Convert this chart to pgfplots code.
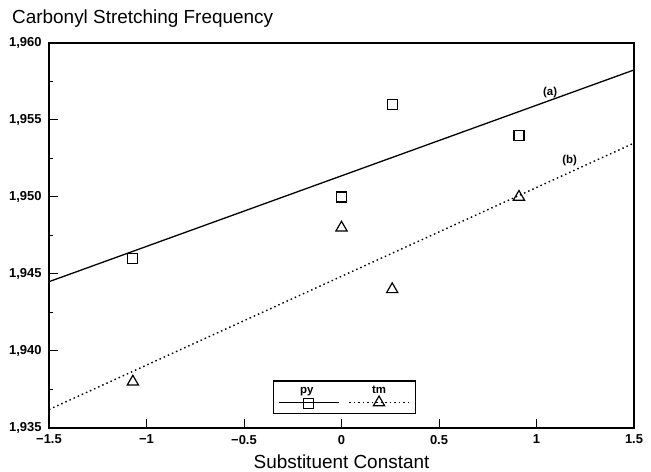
\documentclass[border=0pt]{standalone}
\usepackage{fontspec}
\setmainfont{Liberation Sans}
\usepackage{pgfplots}
\pgfplotsset{compat=1.18}

\begin{document}
\begin{tikzpicture}
\begin{axis}[
    scale only axis, width=585bp, height=385bp,
    xmin=-1.5, xmax=1.5, ymin=1935, ymax=1960,
    xtick={-1.5,-1,-0.5,0,0.5,1,1.5},
    xticklabels={−1.5,−1,−0.5,0,0.5,1,1.5},
    ytick={1935,1940,1945,1950,1955,1960},
    yticklabels={{1,935},{1,940},{1,945},{1,950},{1,955},{1,960}},
    minor ytick={1937.5,1942.5,1947.5,1952.5,1957.5},
    xtick pos=bottom, ytick pos=left,
    tick align=inside,
    major tick length=9bp, minor tick length=4.5bp,
    tick style={black, line width=1bp},
    axis line style={line width=1.2bp},
    tick label style={font=\bfseries\fontsize{13}{13}\selectfont},
    y tick label style={xshift=-4bp},
    x tick label style={yshift=-3.5bp},
    title={Carbonyl Stretching Frequency},
    title style={at={(0,1)}, anchor=base west, inner sep=0pt,
        xshift=-37bp, yshift=14bp, font=\fontsize{19}{19}\selectfont},
    xlabel={Substituent Constant},
    xlabel style={at={(0.5,0)}, anchor=base, inner sep=0pt,
        yshift=-40bp, font=\fontsize{19}{19}\selectfont},
    legend columns=2,
    legend style={at={(0.505,0.036)}, anchor=south, draw=black,
        line width=1.2bp, inner xsep=5bp, inner ysep=5bp,
        nodes={inner sep=0pt},
        /tikz/every even column/.append style={column sep=8bp}},
]
\addplot[only marks, mark=square, mark size=5bp, line width=1.2bp,
    legend image code/.code={
        \draw[line width=1.2bp] (0bp,0bp) -- (60bp,0bp);
        \draw[line width=1.2bp, mark=square, mark size=5bp]
            plot coordinates {(30bp,-1bp)};
        \node[font=\bfseries\fontsize{11.5}{11.5}\selectfont, inner sep=0pt,
            anchor=base] at (28bp,9bp) {py};
    }] coordinates {
    (-1.07,1946) (0,1950) (0.26,1956) (0.91,1954)};
\addlegendentry{}
\addplot[only marks, mark=triangle, mark size=6.5bp, line width=1.2bp,
    legend image code/.code={
        \draw[line width=1.2bp, dash pattern=on 1.5bp off 3bp]
            (0bp,0bp) -- (60bp,0bp);
        \draw[line width=1.2bp, mark=triangle, mark size=6.5bp]
            plot coordinates {(30bp,0bp)};
        \node[font=\bfseries\fontsize{11.5}{11.5}\selectfont, inner sep=0pt,
            anchor=base] at (30bp,9bp) {tm};
    }] coordinates {
    (-1.07,1938) (0,1948) (0.26,1944) (0.91,1950)};
\addlegendentry{}
% regression lines
\addplot[line width=1.3bp, forget plot] coordinates {(-1.5,1944.5) (1.5,1958.25)};
\addplot[line width=1.4bp, dash pattern=on 1.5bp off 3bp, forget plot]
    coordinates {(-1.5,1936.2) (1.5,1953.5)};
\node[font=\bfseries\fontsize{11.5}{11.5}\selectfont] at (axis cs:1.07,1956.8) {(a)};
\node[font=\bfseries\fontsize{11.5}{11.5}\selectfont] at (axis cs:1.17,1952.4) {(b)};
\coordinate (bl) at (rel axis cs:0,0);
\end{axis}
\pgfresetboundingbox
\path (bl) ++(-49bp,-44bp) rectangle ++(651bp,472bp);
\end{tikzpicture}
\end{document}
